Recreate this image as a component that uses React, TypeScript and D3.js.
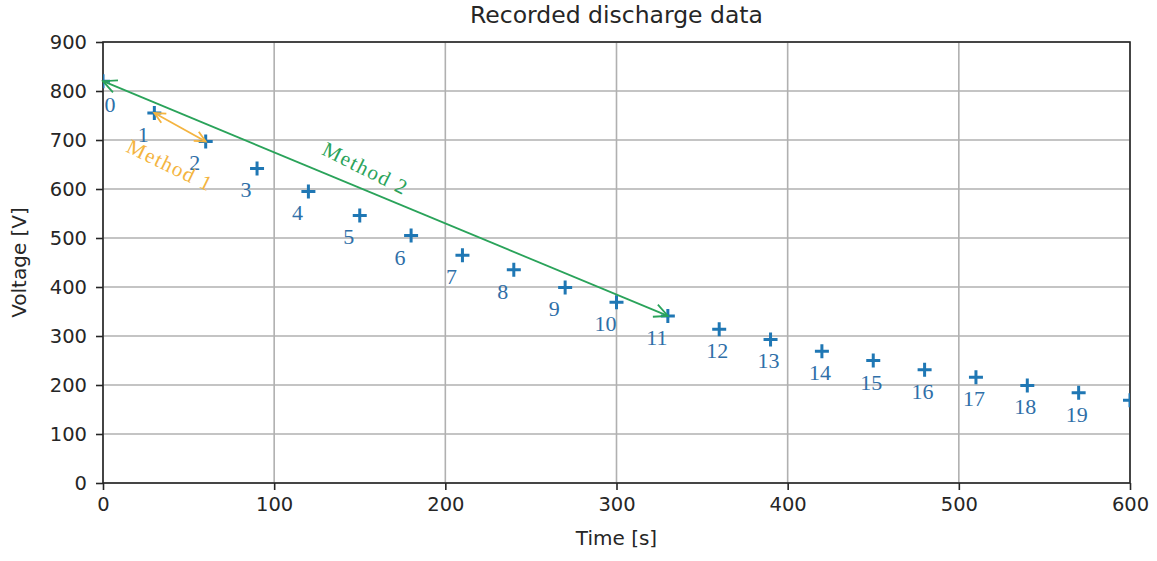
import React, { useEffect, useRef } from "react";
import * as d3 from "d3";

// recorded samples, one every 30 s
const times = [0, 30, 60, 90, 120, 150, 180, 210, 240, 270, 300, 330, 360, 390, 420, 450, 480, 510, 540, 570, 600];
const voltages = [820, 755, 697, 642, 595, 546, 505, 465, 435, 399, 369, 341, 314, 293, 269, 250, 231, 216, 199, 184, 169];
const pointLabels = ["0", "1", "2", "3", "4", "5", "6", "7", "8", "9", "10", "11", "12", "13", "14", "15", "16", "17", "18", "19"];

const xTicks = [0, 100, 200, 300, 400, 500, 600];
const yTicks = [0, 100, 200, 300, 400, 500, 600, 700, 800, 900];

// arrows between sample indices
const methods = [
  { name: "Method 1", from: 1, to: 2, color: "#f4b440" },
  { name: "Method 2", from: 0, to: 11, color: "#2aa35a" },
];

const W = 1157;
const H = 561;
const margin = { top: 42, right: 27, bottom: 78, left: 103 };

function App() {
  const ref = useRef<SVGSVGElement>(null);

  useEffect(() => {
    const svg = d3.select(ref.current);
    svg.selectAll("*").remove();

    const x = d3.scaleLinear().domain([0, 600]).range([margin.left, W - margin.right]);
    const y = d3.scaleLinear().domain([0, 900]).range([H - margin.bottom, margin.top]);

    const font = "'DejaVu Sans', sans-serif";
    const serif = "'Liberation Serif', 'Times New Roman', serif";
    const ink = "#262626";

    svg.append("rect").attr("width", W).attr("height", H).attr("fill", "#fff");

    svg.append("clipPath").attr("id", "plotclip")
      .append("rect")
      .attr("x", x(0)).attr("y", y(900))
      .attr("width", x(600) - x(0)).attr("height", y(0) - y(900));

    // grid
    const grid = svg.append("g");
    grid.selectAll(".gx").data(xTicks).enter().append("line")
      .attr("x1", d => x(d)).attr("x2", d => x(d))
      .attr("y1", y(0)).attr("y2", y(900))
      .attr("stroke", "#b0b0b0").attr("stroke-width", 1.6);
    grid.selectAll(".gy").data(yTicks).enter().append("line")
      .attr("x1", x(0)).attr("x2", x(600))
      .attr("y1", d => y(d)).attr("y2", d => y(d))
      .attr("stroke", "#b0b0b0").attr("stroke-width", 1.6);

    // axes
    const xAxis = svg.append("g")
      .attr("transform", `translate(0,${y(0)})`)
      .call(d3.axisBottom(x).tickValues(xTicks).tickSize(7).tickPadding(7).tickFormat(d3.format("d")));
    const yAxis = svg.append("g")
      .attr("transform", `translate(${x(0)},0)`)
      .call(d3.axisLeft(y).tickValues(yTicks).tickSize(7).tickPadding(9).tickFormat(d3.format("d")));
    [xAxis, yAxis].forEach(a => {
      a.select(".domain").remove();
      a.selectAll("line").attr("stroke", ink).attr("stroke-width", 1.6);
      a.selectAll("text").attr("font-family", font).attr("font-size", 19.5).attr("fill", ink);
    });

    // spines
    svg.append("rect")
      .attr("x", x(0)).attr("y", y(900))
      .attr("width", x(600) - x(0)).attr("height", y(0) - y(900))
      .attr("fill", "none").attr("stroke", ink).attr("stroke-width", 1.6);

    // markers
    const plot = svg.append("g").attr("clip-path", "url(#plotclip)");
    const s = 7;
    plot.selectAll(".pt").data(times).enter().append("path")
      .attr("d", (d, i) => {
        const px = x(d), py = y(voltages[i]);
        return `M${px - s},${py}H${px + s}M${px},${py - s}V${py + s}`;
      })
      .attr("stroke", "#1f77b4").attr("stroke-width", 3).attr("fill", "none");

    // point numbers
    svg.selectAll(".lbl").data(pointLabels).enter().append("text")
      .attr("x", (d, i) => x(times[i]) + (i === 0 ? 7 : i < 12 ? -11 : -2))
      .attr("y", (d, i) => y(voltages[i]) + (i === 0 ? 31 : 29))
      .attr("text-anchor", "middle")
      .attr("font-family", serif).attr("font-size", 22)
      .attr("fill", "#2f6fa8")
      .text(d => d);

    // method arrows
    methods.forEach(m => {
      const x1 = x(times[m.from]), y1 = y(voltages[m.from]);
      const x2 = x(times[m.to]), y2 = y(voltages[m.to]);
      const ang = Math.atan2(y2 - y1, x2 - x1);
      const big = m.from === 0;
      const g = svg.append("g").attr("stroke", m.color).attr("fill", "none").attr("stroke-width", 1.8);
      g.append("line").attr("x1", x1).attr("y1", y1).attr("x2", x2).attr("y2", y2);
      const head = (hx: number, hy: number, a: number) => {
        const L = big ? 15 : 12, sp = 0.45;
        g.append("path").attr("d",
          `M${hx + L * Math.cos(a + sp)},${hy + L * Math.sin(a + sp)}L${hx},${hy}L${hx + L * Math.cos(a - sp)},${hy + L * Math.sin(a - sp)}`);
      };
      head(x1, y1, ang);
      head(x2, y2, ang + Math.PI);

      const mx = (x1 + x2) / 2, my = (y1 + y2) / 2;
      const deg = (ang * 180) / Math.PI;
      svg.append("text")
        .attr("transform", `translate(${mx + (big ? -21 : -11)},${my + (big ? -28 : 40)}) rotate(${deg + (big ? 4 : -3)})`)
        .attr("text-anchor", "middle")
        .attr("dominant-baseline", "middle")
        .attr("font-family", serif).attr("font-size", 21)
        .attr("letter-spacing", 1.5)
        .attr("fill", m.color)
        .text(m.name);
    });

    // titles
    svg.append("text")
      .attr("x", (x(0) + x(600)) / 2).attr("y", 23)
      .attr("text-anchor", "middle")
      .attr("font-family", font).attr("font-size", 23.5).attr("fill", ink)
      .text("Recorded discharge data");
    svg.append("text")
      .attr("x", (x(0) + x(600)) / 2).attr("y", 545)
      .attr("text-anchor", "middle")
      .attr("font-family", font).attr("font-size", 20).attr("fill", ink)
      .text("Time [s]");
    svg.append("text")
      .attr("transform", `translate(26,${(y(0) + y(900)) / 2}) rotate(-90)`)
      .attr("text-anchor", "middle")
      .attr("font-family", font).attr("font-size", 20).attr("fill", ink)
      .text("Voltage [V]");
  }, []);

  return (
    <svg ref={ref} width={W} height={H} style={{ position: "absolute", left: 0, top: 0 }} />
  );
}

export default App;
